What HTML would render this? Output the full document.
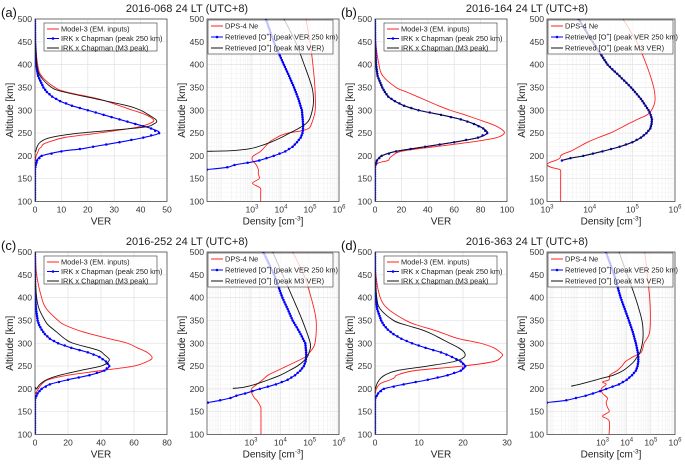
<!DOCTYPE html>
<html><head><meta charset="utf-8">
<style>
html,body{margin:0;padding:0;background:#fff;}
svg{display:block;font-family:"Liberation Sans",Arial,sans-serif;}
</style></head>
<body>
<svg id="fig" width="685" height="465" viewBox="0 0 685 465" xmlns="http://www.w3.org/2000/svg"></svg>
<script>
// ---------- DATA: VER panels (altitude km, VER) ----------
const altVerA_red = [100,180,190,200,210,215,220,225,230,240,250,262,270,278,290,300,310,325,340,350,375,400,450,500];
const verA_red    = [0,0,0.2,0.4,1.2,1.5,2.5,3,5,11,24,38,43,45,42,37,32,24,12,7.5,2.5,1,0.2,0];
const altVerA_blue = [100,170,180,190,200,210,215,220,230,240,250,260,270,280,290,300,310,320,330,340,350,375,400,450,500];
const verA_blue    = [0,0,0.3,0.8,2.5,10,17,22,32,41,47,44,38,32,26,20,14,9.5,6.5,4.5,3.2,1.2,0.4,0.05,0];
const altVerA_black = [100,200,210,220,230,240,250,262,270,278,290,300,310,325,340,350,375,400,450,500];
const verA_black    = [0,0,0.3,0.8,2,5.7,17,40,45,46,43,40,35,23,11,6.3,2,0.7,0.1,0];

const altVerB_red = [100,175,180,185,190,195,200,210,220,230,240,250,260,270,280,290,300,310,320,330,340,350,375,400,450,500];
const verB_red    = [0,0,1,3,10,11,13,20,45,72,92,98,95,88,78,68,57,48,40,32,24,16,6,3,0.5,0.1];
const altVerB_blue = [100,175,180,190,200,210,220,230,240,250,260,270,280,290,300,310,320,330,340,350,375,400,450,500];
const verB_blue    = [0,0,0.3,1.5,5,16,38,60,78,85,82,75,65,50,33,22,15,10,7.5,5.5,2,0.8,0.1,0];
const altVerB_black = altVerB_blue;
const verB_black    = verB_blue;

const altVerC_red = [100,185,190,200,210,220,230,240,250,260,268,280,290,300,310,325,340,350,375,400,450,500];
const verC_red    = [0,0,0.5,2,4,8,20,40,60,68,71,68,62,56,45,29,18,14,7,4,1,0.2];
const altVerC_blue = [100,175,180,190,200,210,220,230,240,250,260,270,280,290,300,310,320,330,340,350,375,400,450,500];
const verC_blue    = [0,0,0.3,1.5,4,9,20,33,42,45,43,39,32,22,14,9,6,4,2.5,1.6,0.6,0.2,0.02,0];
const altVerC_black = [100,195,200,210,220,230,240,250,258,265,275,285,300,310,325,340,350,375,400,450,500];
const verC_black    = [0,0,1,3,7,15,27,40,44,45,42,38,23,18,13,8,6,2.5,1,0.1,0];

const altVerD_red = [100,185,190,200,210,215,220,225,230,240,250,260,270,275,280,290,300,310,320,330,340,350,375,400,450,500];
const verD_red    = [0,0,0.1,0.3,1,2,3.5,4.5,5,9,20,27,28.7,29,28.5,27,24,19,16,13,9.5,7,3,1.2,0.2,0.05];
const altVerD_blue = [100,175,180,190,200,210,220,230,240,250,260,270,280,290,300,310,320,330,340,350,375,400,450,500];
const verD_blue    = [0,0,0.1,0.7,2,6.5,12,16.5,19.5,20.5,19.5,17.5,15,11.5,8.4,6,4.2,2.9,2,1.4,0.5,0.15,0.02,0];
const altVerD_black = [100,195,200,210,220,230,240,250,260,270,280,290,300,310,320,330,340,350,375,400,450,500];
const verD_black    = [0,0,0.1,0.4,1,2.2,5,12,18,20.3,20.3,19,17,15,13,10.5,7,4.2,1.2,0.4,0.05,0];

// ---------- DATA: density panels (altitude km, log10 density cm^-3) ----------
const altNeA_red = [100,120,130,140,150,160,170,180,190,195,200,210,220,230,240,245,250,255,260,270,300,350,400,450,500];
const logNeA_red = [3.3,3.3,3.28,3.02,3.25,3.22,3.22,3.15,3.02,3.0,3.05,3.3,3.45,3.6,3.85,4.0,4.25,4.7,4.95,5.05,5.18,5.17,5.1,5.0,4.86];
const altNeA_blue = [170,175,180,185,190,200,210,220,230,240,250,260,270,280,300,325,350,375,400,450,500];
const logNeA_blue = [1.45,2.15,2.4,2.85,3.25,3.75,4.15,4.4,4.55,4.68,4.74,4.76,4.76,4.75,4.72,4.6,4.45,4.28,4.1,3.75,3.48];
const altNeA_black = [210,211,213,216,220,230,240,250,260,270,280,300,320,350,400,450,500];
const logNeA_black = [1.45,2.2,2.6,2.95,3.2,3.65,4.0,4.3,4.6,4.85,4.98,5.08,5.12,5.07,4.8,4.5,4.1];

const altNeB_red = [100,150,165,170,175,180,185,190,195,200,205,210,220,230,240,250,260,270,280,290,300,320,350,400,450,500];
const logNeB_red = [3.32,3.32,3.32,3.3,3.1,3.0,3.05,3.2,3.3,3.32,3.4,3.55,3.75,3.95,4.2,4.48,4.7,4.9,5.12,5.35,5.45,5.53,5.5,5.33,5.1,4.78];
const altNeB_blue = [190,195,200,210,220,230,240,250,260,270,280,290,300,325,350,375,400,450,500];
const logNeB_blue = [3.35,3.55,3.85,4.3,4.7,5.0,5.2,5.33,5.42,5.45,5.46,5.43,5.38,5.2,4.97,4.7,4.42,4.07,3.74];
const altNeB_black = altNeB_blue;
const logNeB_black = logNeB_blue;

const altNeC_red = [100,150,160,170,175,180,190,195,200,205,210,220,230,240,250,260,270,280,300,350,400,450,500];
const logNeC_red = [3.34,3.34,3.33,3.25,3.2,3.12,3.03,3.0,3.02,3.1,3.2,3.4,3.58,3.9,4.22,4.55,4.85,5.0,5.18,5.22,5.05,4.8,4.42];
const altNeC_blue = [170,175,180,185,190,195,200,210,220,230,240,250,260,270,280,300,325,350,375,400,450,500];
const logNeC_blue = [1.53,1.95,2.3,2.5,2.8,3.05,3.3,3.85,4.25,4.5,4.68,4.8,4.86,4.88,4.88,4.85,4.65,4.42,4.25,4.07,3.79,3.42];
const altNeC_black = [201,203,205,210,220,230,240,250,260,270,280,300,350,400,450,500];
const logNeC_black = [2.38,2.7,2.85,3.15,3.6,4.0,4.3,4.58,4.78,4.92,4.98,5.02,4.75,4.42,4.08,3.74];

const altNeD_red = [100,130,140,150,160,170,180,190,200,210,215,220,230,240,250,260,265,270,280,300,320,350,400,450,500];
const logNeD_red = [3.27,3.27,3.0,3.27,3.2,3.15,3.2,3.0,2.95,3.15,3.0,3.27,3.3,3.6,3.8,3.95,4.1,4.25,4.6,4.72,4.93,4.98,4.95,4.85,4.75];
const altNeD_blue = [170,175,180,185,190,195,200,210,220,230,240,250,260,270,280,300,325,350,375,400,450,500];
const logNeD_blue = [0.7,1.5,1.9,2.3,2.6,2.9,3.15,3.68,4.0,4.22,4.38,4.45,4.48,4.48,4.46,4.38,4.25,4.09,3.92,3.75,3.48,3.14];
const altNeD_black = [206,210,215,220,225,230,240,250,260,270,280,300,320,350,400,450,500];
const logNeD_black = [1.7,2.05,2.4,2.75,3.1,3.45,3.85,4.1,4.3,4.43,4.55,4.65,4.68,4.63,4.36,4.02,3.68];

// ---------- tick labels ----------
const altTicks = [100,150,200,250,300,350,400,450,500];
const verTicksA = [0,10,20,30,40,50];
const verTicksB = [0,20,40,60,80,100];
const verTicksC = [0,20,40,60,80];
const verTicksD = [0,10,20,30];
const denTicks = [3,4,5,6];
const titles = ["2016-068 24 LT (UTC+8)","2016-164 24 LT (UTC+8)","2016-252 24 LT (UTC+8)","2016-363 24 LT (UTC+8)"];
const letters = ["(a)","(b)","(c)","(d)"];

// ---------- drawing ----------
const NS = "http://www.w3.org/2000/svg";
const svg = document.getElementById('fig');
const RED = "#ff2020", BLUE = "#0000ff", BLACK = "#111";
let clipId = 0;
function el(tag, attrs, parent){
  const e = document.createElementNS(NS, tag);
  for (const k in attrs) e.setAttribute(k, attrs[k]);
  (parent||svg).appendChild(e);
  return e;
}
function interp(alts, vals, a){
  for (let i=0;i<alts.length-1;i++){
    if (a>=alts[i] && a<=alts[i+1]){
      const t=(a-alts[i])/(alts[i+1]-alts[i]||1);
      return vals[i]+t*(vals[i+1]-vals[i]);
    }
  }
  return null;
}
function smoothPath(pts){
  if (pts.length<2) return "";
  let d = "M"+pts[0][0].toFixed(2)+","+pts[0][1].toFixed(2);
  for (let i=0;i<pts.length-1;i++){
    const p0=pts[Math.max(0,i-1)], p1=pts[i], p2=pts[i+1], p3=pts[Math.min(pts.length-1,i+2)];
    const c1=[p1[0]+(p2[0]-p0[0])/6, p1[1]+(p2[1]-p0[1])/6];
    const c2=[p2[0]-(p3[0]-p1[0])/6, p2[1]-(p3[1]-p1[1])/6];
    d += " C"+c1[0].toFixed(2)+","+c1[1].toFixed(2)+" "+c2[0].toFixed(2)+","+c2[1].toFixed(2)+" "+p2[0].toFixed(2)+","+p2[1].toFixed(2);
  }
  return d;
}

function drawAxes(o){
  const g = el('g', {});
  
  
  const ys = a => o.y0 + (500-a)/400*o.h;
  const xs = v => o.x0 + (v-o.xmin)/(o.xmax-o.xmin)*o.w;
  el('rect',{x:o.x0,y:o.y0,width:o.w,height:o.h,fill:"#fff"},g);
  // minor grid for log
  if (o.log){
    for (let d=Math.floor(o.xmin); d<o.xmax; d++){
      for (let m=2;m<=9;m++){
        const lv=d+Math.log10(m);
        if (lv<=o.xmin||lv>=o.xmax) continue;
        el('line',{x1:xs(lv),x2:xs(lv),y1:o.y0,y2:o.y0+o.h,stroke:"#f0f0f0","stroke-width":0.6},g);
      }
    }
    for (let a=110;a<500;a+=10){ if(a%50) el('line',{x1:o.x0,x2:o.x0+o.w,y1:ys(a),y2:ys(a),stroke:"#f3f3f3","stroke-width":0.5},g); }
  }
  // major grid
  altTicks.forEach(a=>{
    el('line',{x1:o.x0,x2:o.x0+o.w,y1:ys(a),y2:ys(a),stroke:"#e2e2e2","stroke-width":0.7},g);
    const t = el('text',{x:o.x0-3,y:ys(a)+3,"text-anchor":"end","font-size":"8.6",fill:"#333"},g);
    t.textContent = a;
    
    
  });
  o.xticks.forEach(v=>{
    el('line',{x1:xs(v),x2:xs(v),y1:o.y0,y2:o.y0+o.h,stroke:"#e2e2e2","stroke-width":0.7},g);
    const t = el('text',{x:xs(v),y:o.y0+o.h+11,"text-anchor":"middle","font-size":"8.6",fill:"#333"},g);
    
    
    if (o.log){
      t.textContent = "10";
      const s = el('tspan',{dy:-4,"font-size":"6"},t); s.textContent = v;
    } else t.textContent = v;
  });
  // clip
  const cid = "c"+(clipId++);
  const cp = el('clipPath',{id:cid},g);
  el('rect',{x:o.x0,y:o.y0,width:o.w,height:o.h},cp);
  const cg = el('g',{"clip-path":"url(#"+cid+")"},g);
  o.series.forEach(s=>{
    const pts = s.alt.map((a,i)=>[xs(s.val[i]), ys(a)]);
    const p = el('path',{d:smoothPath(pts),fill:"none",stroke:s.color,"stroke-width":s.markers?1.1:0.9},cg);
    
    
    if (s.markers){
      const a0 = Math.ceil(s.alt[0]/5)*5, a1 = s.alt[s.alt.length-1];
      for (let a=a0; a<=a1; a+=5){
        const v = interp(s.alt, s.val, a);
        if (v===null) continue;
        const m = el('circle',{cx:xs(v),cy:ys(a),r:1.25,fill:s.color},cg);
        
        
      }
    }
  });
  el('rect',{x:o.x0,y:o.y0,width:o.w,height:o.h,fill:"none",stroke:"#3a3a3a","stroke-width":0.7},g);
  // axis labels
  const yl = el('text',{x:0,y:0,"text-anchor":"middle","font-size":"10",fill:"#222",transform:"translate("+(o.x0-22)+","+(o.y0+o.h/2)+") rotate(-90)"},g);
  yl.textContent = "Altitude [km]";
  
  
  const xl = el('text',{x:o.x0+o.w/2,y:o.y0+o.h+23,"text-anchor":"middle","font-size":"10",fill:"#222"},g);
  
  
  if (o.log){ xl.textContent="Density [cm"; const s=el('tspan',{dy:-4,"font-size":"6.5"},xl); s.textContent="-3"; const s2=el('tspan',{dy:4},xl); s2.textContent="]"; }
  else xl.textContent = "VER";
  // legend
  const L = o.legend;
  const lg = el('g',{},g);
  
  
  el('rect',{x:L.x,y:L.y,width:L.w,height:L.h,fill:"#fff","fill-opacity":0.75,stroke:"#333","stroke-width":0.6},lg);
  L.items.forEach((it,i)=>{
    const yy = L.y+6+i*L.dy;
    const le = el('g',{},lg);
    
    
    el('line',{x1:L.x+3,x2:L.x+15,y1:yy,y2:yy,stroke:it.color,"stroke-width":1},le);
    if (it.markers) el('circle',{cx:L.x+9,cy:yy,r:1.3,fill:it.color},le);
    const t = el('text',{x:L.x+17,y:yy+2.6,"font-size":"7.4",fill:"#222"},le);
    if (it.sup){
      t.textContent = it.pre;
      const s=el('tspan',{dy:-3,"font-size":"5"},t); s.textContent="+";
      const s2=el('tspan',{dy:3},t); s2.textContent=it.post;
    } else t.textContent = it.label;
  });
}

const verLegend = [
  {label:"Model-3 (EM. inputs)",color:RED},
  {label:"IRK x Chapman (peak 250 km)",color:BLUE,markers:true},
  {label:"IRK x Chapman (M3 peak)",color:BLACK}];
const denLegend = [
  {label:"DPS-4 Ne",color:RED},
  {sup:true,pre:"Retrieved [O",post:"] (peak VER 250 km)",color:BLUE,markers:true},
  {sup:true,pre:"Retrieved [O",post:"] (peak M3 VER)",color:BLACK}];

function verPanel(name,x0,y0,xmax,ticks,ar,vr,ab,vb,ak,vk){
  drawAxes({name,x0,y0,w:132,h:182.5,xmin:0,xmax,xticks:ticks,log:false,
    series:[{name:'model3-ver-line',alt:ar,val:vr,color:RED},
            {name:'irk-chapman-250-line',alt:ab,val:vb,color:BLUE,markers:true},
            {name:'irk-chapman-m3-line',alt:ak,val:vk,color:BLACK}],
    legend:{x:x0+9,y:y0+4,w:113,h:28,dy:9.5,items:verLegend}});
}
function denPanel(name,x0,y0,w,xmin,ar,vr,ab,vb,ak,vk){
  drawAxes({name,x0,y0,w,h:182.5,xmin,xmax:6,xticks:denTicks,log:true,
    series:[{name:'dps4-ne-line',alt:ar,val:vr,color:RED},
            {name:'retrieved-o-peak250-line',alt:ab,val:vb,color:BLUE,markers:true},
            {name:'retrieved-o-m3-line',alt:ak,val:vk,color:BLACK}],
    legend:{x:x0+1,y:y0+1,w:125,h:34,dy:11,items:denLegend}});
}

verPanel('ver-axes-a',35,19,50,verTicksA,altVerA_red,verA_red,altVerA_blue,verA_blue,altVerA_black,verA_black);
denPanel('density-axes-a',207,19,132,1.45,altNeA_red,logNeA_red,altNeA_blue,logNeA_blue,altNeA_black,logNeA_black);
verPanel('ver-axes-b',375,19,100,verTicksB,altVerB_red,verB_red,altVerB_blue,verB_blue,altVerB_black,verB_black);
denPanel('density-axes-b',547,19,128,3,altNeB_red,logNeB_red,altNeB_blue,logNeB_blue,altNeB_black,logNeB_black);
verPanel('ver-axes-c',35,252,80,verTicksC,altVerC_red,verC_red,altVerC_blue,verC_blue,altVerC_black,verC_black);
denPanel('density-axes-c',207,252,132,1.5,altNeC_red,logNeC_red,altNeC_blue,logNeC_blue,altNeC_black,logNeC_black);
verPanel('ver-axes-d',375,252,30,verTicksD,altVerD_red,verD_red,altVerD_blue,verD_blue,altVerD_black,verD_black);
denPanel('density-axes-d',547,252,128,0.7,altNeD_red,logNeD_red,altNeD_blue,logNeD_blue,altNeD_black,logNeD_black);

const tpos = [[187,12],[527,12],[187,245],[527,245]];
const lpos = [[1,17],[341,17],[1,250],[341,250]];
titles.forEach((t,i)=>{
  const e = el('text',{x:tpos[i][0],y:tpos[i][1],"text-anchor":"middle","font-size":"11",fill:"#222"});
  e.textContent = t;
  
  
  const l = el('text',{x:lpos[i][0],y:lpos[i][1],"font-size":"13",fill:"#111"});
  l.textContent = letters[i];
  
  
});
</script>
</body></html>
